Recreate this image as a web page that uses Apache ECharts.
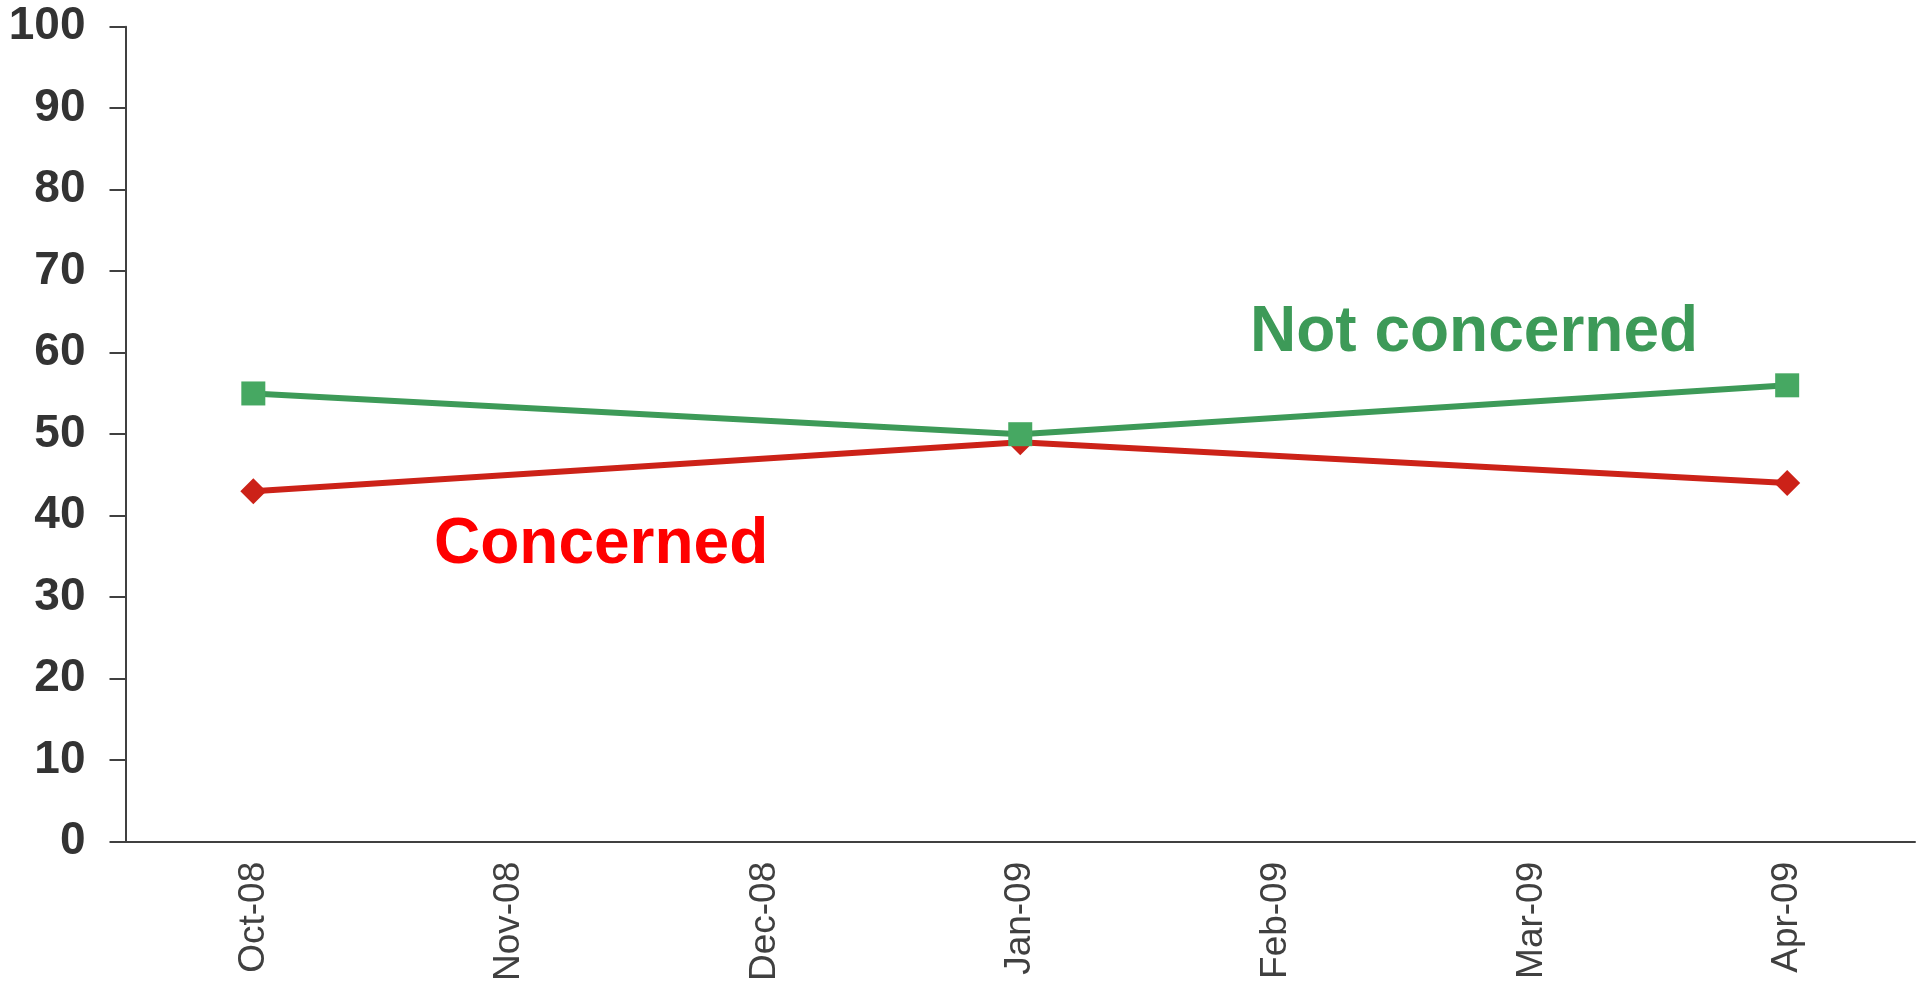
<!DOCTYPE html>
<html>
<head>
<meta charset="utf-8">
<style>
  html, body { margin: 0; padding: 0; background: #ffffff; }
  #chart { width: 1923px; height: 984px; }
</style>
<script src="https://cdn.jsdelivr.net/npm/echarts@6/dist/echarts.min.js"></script>
</head>
<body>
<div id="chart"></div>
<script>
// Survey months (only Oct-08, Jan-09 and Apr-09 were polled)
const months = ['Oct-08', 'Nov-08', 'Dec-08', 'Jan-09', 'Feb-09', 'Mar-09', 'Apr-09'];
const concerned = [43, null, null, 49, null, null, 44];
const notConcerned = [55, null, null, 50, null, null, 56];
const yTicks = { min: 0, max: 100, interval: 10 };

const chart = echarts.init(document.getElementById('chart'), null, { renderer: 'canvas' });

const axisColor = '#404040';
const font = '"Liberation Sans", Arial, Helvetica, sans-serif';

chart.setOption({
  animation: false,
  backgroundColor: '#ffffff',
  grid: { left: 125.5, right: 8, top: 26.7, bottom: 140, containLabel: false },
  xAxis: {
    type: 'category',
    data: months,
    boundaryGap: true,
    axisLine: { show: true, lineStyle: { color: axisColor, width: 2 } },
    axisTick: { show: false },
    axisLabel: {
      rotate: 90,
      interval: 0,
      margin: 20,
      color: axisColor,
      fontFamily: font,
      fontSize: 37
    },
    splitLine: { show: false }
  },
  yAxis: {
    type: 'value',
    min: yTicks.min,
    max: yTicks.max,
    interval: yTicks.interval,
    axisLine: { show: true, lineStyle: { color: axisColor, width: 2 } },
    axisTick: { show: true, length: 16, lineStyle: { color: axisColor, width: 2 } },
    axisLabel: {
      margin: 40,
      color: '#333333',
      fontFamily: font,
      fontWeight: 'bold',
      fontSize: 46
    },
    splitLine: { show: false }
  },
  series: [
    {
      name: 'Concerned',
      type: 'line',
      data: concerned,
      connectNulls: true,
      symbol: 'diamond',
      symbolSize: 26,
      lineStyle: { color: '#cc2218', width: 6 },
      itemStyle: { color: '#cc2218' },
      z: 2
    },
    {
      name: 'Not concerned',
      type: 'line',
      data: notConcerned,
      connectNulls: true,
      symbol: 'rect',
      symbolSize: 24,
      lineStyle: { color: '#3d9a58', width: 6 },
      itemStyle: { color: '#46a862' },
      z: 3
    }
  ],
  graphic: [
    {
      type: 'text',
      x: 1250,
      y: 333,
      style: {
        text: 'Not concerned',
        fill: '#3d9a58',
        font: 'bold 64px ' + font,
        align: 'left',
        verticalAlign: 'middle'
      }
    },
    {
      type: 'text',
      x: 434,
      y: 545,
      style: {
        text: 'Concerned',
        fill: '#ff0000',
        font: 'bold 64px ' + font,
        align: 'left',
        verticalAlign: 'middle'
      }
    }
  ]
});
</script>
</body>
</html>
